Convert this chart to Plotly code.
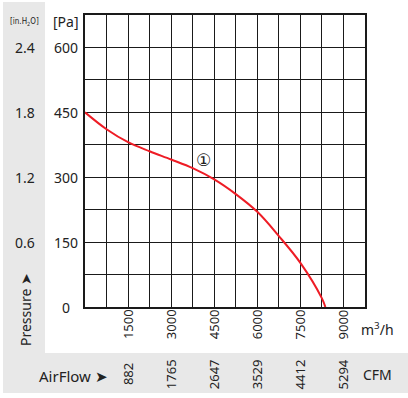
import plotly.graph_objects as go

# Data
flow_m3h = [0, 750, 1500, 2250, 3000, 3750, 4500, 5250, 6000, 6750, 7500, 8250, 8370]
pressure_pa = [450, 411, 381, 360, 341, 321, 295, 261, 220, 164, 102, 20, 0]

pa_ticks = [0, 150, 300, 450, 600]
inh2o_labels = ["", "0.6", "1.2", "1.8", "2.4"]
m3h_ticks = [1500, 3000, 4500, 6000, 7500, 9000]
cfm_labels = ["882", "1765", "2647", "3529", "4412", "5294"]

W, H = 408, 398
L, R, T, B = 85, 365, 15, 307
PW, PH = R - L, B - T

def px(x):
    return (x - L) / PW

def py(y):
    return (B - y) / PH

FONT = "Noto Sans"
TXT = "#222222"
GRAY = "#e8e8e8"

fig = go.Figure()
fig.add_trace(go.Scatter(
    x=flow_m3h, y=pressure_pa, mode="lines",
    line=dict(color="#ee1c25", width=2, shape="spline", smoothing=1.0),
    hoverinfo="skip", showlegend=False,
))

shapes = [
    dict(type="rect", xref="paper", yref="paper", x0=px(3), x1=px(408), y0=py(393), y1=py(2),
         fillcolor=GRAY, line=dict(width=0), layer="below"),
    dict(type="rect", xref="paper", yref="paper", x0=px(45), x1=px(408), y0=py(353), y1=py(0),
         fillcolor="white", line=dict(width=0), layer="below"),
]

ann = []
for v, lab in zip(pa_ticks, inh2o_labels):
    ann.append(dict(x=px(65.5), xref="paper", y=v, yref="y", text=str(v), showarrow=False,
                    xanchor="center", yanchor="middle", font=dict(family=FONT, size=14, color=TXT)))
    if lab:
        ann.append(dict(x=px(25), xref="paper", y=v, yref="y", text=lab, showarrow=False,
                        xanchor="center", yanchor="middle", font=dict(family=FONT, size=14, color=TXT)))
ann.append(dict(x=px(65.5), xref="paper", y=py(22), yref="paper", text="[Pa]", showarrow=False,
                xanchor="center", yanchor="middle", font=dict(family=FONT, size=14, color=TXT)))
ann.append(dict(x=px(24), xref="paper", y=py(22), yref="paper", text="[in.H<sub>2</sub>O]", showarrow=False,
                xanchor="center", yanchor="middle", font=dict(family="Liberation Sans Narrow, DejaVu Sans Condensed", size=8, color=TXT)))
for v, c in zip(m3h_ticks, cfm_labels):
    ann.append(dict(x=v, xref="x", y=py(324), yref="paper", text=str(v), showarrow=False, textangle=-90,
                    xanchor="center", yanchor="middle", font=dict(family=FONT, size=13, color=TXT)))
    ann.append(dict(x=v, xref="x", y=py(374), yref="paper", text=c, showarrow=False, textangle=-90,
                    xanchor="center", yanchor="middle", font=dict(family=FONT, size=13, color=TXT)))
ann.append(dict(x=px(377), xref="paper", y=py(329), yref="paper", text="m<sup>3</sup>/h", showarrow=False,
                xanchor="center", yanchor="middle", font=dict(family=FONT, size=14, color=TXT)))
ann.append(dict(x=px(377), xref="paper", y=py(374), yref="paper", text="CFM", showarrow=False,
                xanchor="center", yanchor="middle", font=dict(family=FONT, size=14, color=TXT)))
ann.append(dict(x=px(73), xref="paper", y=py(376), yref="paper", text="AirFlow ➤", showarrow=False,
                xanchor="center", yanchor="middle", font=dict(family=FONT, size=15, color=TXT)))
ann.append(dict(x=px(25), xref="paper", y=py(310), yref="paper", text="Pressure ➤", showarrow=False,
                textangle=-90, xanchor="center", yanchor="middle", font=dict(family=FONT, size=14, color=TXT)))
ann.append(dict(x=4143, xref="x", y=340, yref="y", text="①", showarrow=False,
                xanchor="center", yanchor="middle", font=dict(family="DejaVu Sans", size=17, color=TXT)))

fig.update_layout(
    width=W, height=H,
    margin=dict(l=L, r=W - R, t=T, b=H - B, pad=0),
    paper_bgcolor="white", plot_bgcolor="white",
    shapes=shapes, annotations=ann, showlegend=False,
)
fig.update_xaxes(range=[0, 9750], dtick=750, tick0=0, showgrid=True, gridcolor="#1a1a1a", gridwidth=1.3,
                 showticklabels=False, ticks="", zeroline=False, showline=True, linecolor="#1a1a1a",
                 linewidth=1.5, mirror=True, fixedrange=True)
fig.update_yaxes(range=[0, 675], dtick=75, tick0=0, showgrid=True, gridcolor="#1a1a1a", gridwidth=1.3,
                 showticklabels=False, ticks="", zeroline=False, showline=True, linecolor="#1a1a1a",
                 linewidth=1.5, mirror=True, fixedrange=True)

fig.write_html("out.html", config={"displayModeBar": False},
               post_script="document.body.style.margin='0';document.body.style.overflow='hidden';")
